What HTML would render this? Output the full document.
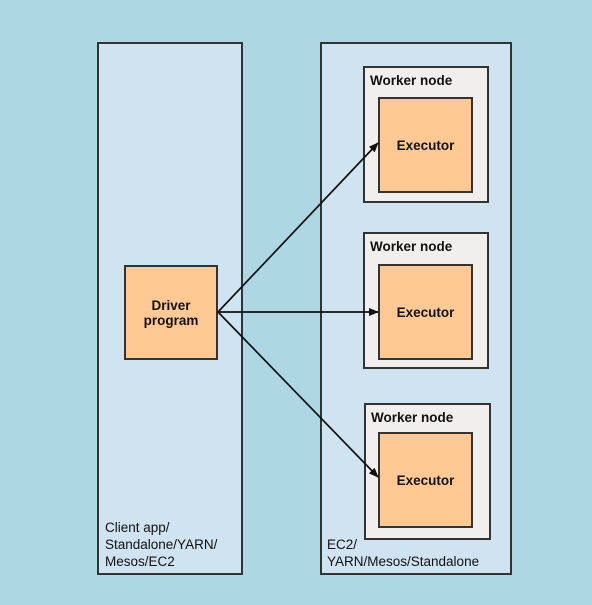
<!DOCTYPE html>
<html><head><meta charset="utf-8"><style>
body{margin:0;width:592px;height:605px;background:#add8e3;overflow:hidden;position:relative;font-family:"Liberation Sans",Arial,sans-serif}
.b{position:absolute;box-sizing:border-box;border:2px solid #333}
.p{background:#cfe3f1}
.w{background:#f0efee}
.e{background:#ffc993;display:flex;align-items:center;justify-content:center;font-weight:bold;font-size:13.5px;color:#111;text-align:center}
.t{position:absolute;font-size:13.5px;color:#111;line-height:17px}
.wt{position:absolute;left:5px;top:5px;font-weight:bold;font-size:13.5px;color:#111}
</style></head><body>
<div class="b p" style="left:97px;top:42px;width:146px;height:533px"></div>
<div class="b p" style="left:320px;top:42px;width:192px;height:533px"></div>
<div class="t" style="left:105px;top:519px">Client app/<br>Standalone/YARN/<br>Mesos/EC2</div>
<div class="t" style="left:327px;top:536px">EC2/<br>YARN/Mesos/Standalone</div>
<div class="b w" style="left:363px;top:66px;width:126px;height:137px"><span class="wt">Worker node</span></div>
<div class="b e" style="left:378px;top:97px;width:95px;height:96px">Executor</div>
<div class="b w" style="left:363px;top:232px;width:126px;height:137px"><span class="wt">Worker node</span></div>
<div class="b e" style="left:378px;top:264px;width:95px;height:96px">Executor</div>
<div class="b w" style="left:364px;top:403px;width:127px;height:137px"><span class="wt">Worker node</span></div>
<div class="b e" style="left:378px;top:432px;width:95px;height:96px">Executor</div>
<div class="b e" style="left:124px;top:265px;width:94px;height:95px">Driver<br>program</div>
<svg width="592" height="605" style="position:absolute;left:0;top:0">
<defs><marker id="a" markerWidth="10" markerHeight="8" refX="9" refY="4" orient="auto" markerUnits="userSpaceOnUse"><path d="M0,0L10,4L0,8z" fill="#111"/></marker></defs>
<g stroke="#111" stroke-width="1.7" fill="none" marker-end="url(#a)">
<line x1="218" y1="312" x2="378" y2="143"/>
<line x1="218" y1="312" x2="378" y2="312"/>
<line x1="218" y1="312" x2="378" y2="477"/>
</g></svg>
</body></html>
